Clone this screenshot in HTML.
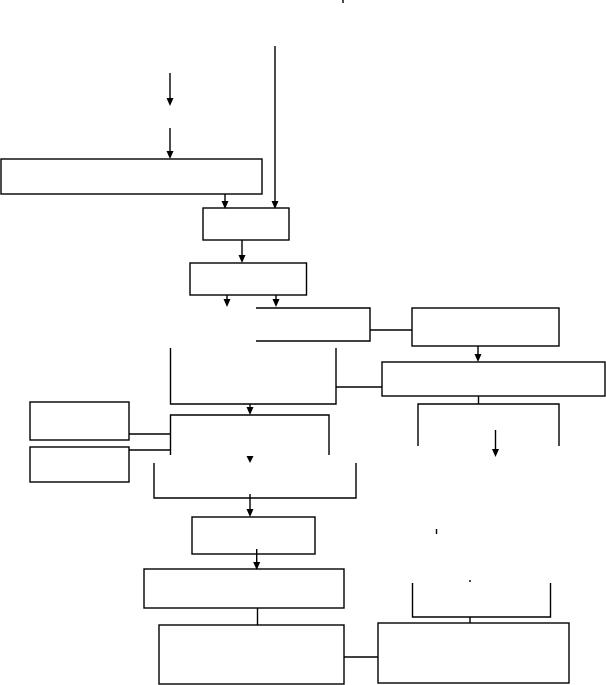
<!DOCTYPE html>
<html><head><meta charset="utf-8"><style>
html,body{margin:0;padding:0;background:#fff;width:606px;height:685px;overflow:hidden}
svg{display:block}
</style></head><body>
<svg width="606" height="685" viewBox="0 0 606 685" xmlns="http://www.w3.org/2000/svg">
<g fill="none" stroke="#000" stroke-width="1.4">
<line x1="343" y1="0" x2="343" y2="3"/>
<line x1="436.5" y1="529" x2="436.5" y2="534"/>
<line x1="470" y1="580" x2="470" y2="582"/>
<line x1="170" y1="73" x2="170" y2="99"/>
<line x1="170" y1="128" x2="170" y2="152"/>
<line x1="275" y1="46" x2="275" y2="202"/>
<rect x="1" y="159" width="261" height="35"/>
<line x1="225" y1="194" x2="225" y2="202"/>
<rect x="203" y="208" width="86" height="32"/>
<line x1="242" y1="240" x2="242" y2="256"/>
<rect x="190" y="263" width="116.5" height="32"/>
<line x1="227" y1="295" x2="227" y2="300"/>
<line x1="276" y1="295" x2="276" y2="300"/>
<path d="M256,308 H370 V341 H256"/>
<line x1="370" y1="330" x2="412" y2="330"/>
<rect x="412" y="308" width="147" height="38"/>
<line x1="478" y1="346" x2="478" y2="355"/>
<path d="M170.5,348 V404 H336 V348"/>
<line x1="336" y1="387" x2="382" y2="387"/>
<rect x="382" y="362" width="223" height="34"/>
<line x1="478.5" y1="396" x2="478.5" y2="404"/>
<path d="M418,446 V404 H559 V446"/>
<line x1="495.5" y1="430" x2="495.5" y2="450"/>
<line x1="250" y1="404" x2="250" y2="408"/>
<path d="M170.5,455 V415 H329 V455"/>
<rect x="30" y="402" width="99" height="38"/>
<rect x="30" y="447" width="99" height="35"/>
<line x1="129" y1="434" x2="170.5" y2="434"/>
<line x1="129" y1="450" x2="170.5" y2="450"/>
<path d="M154,463 V498 H356 V463"/>
<line x1="250" y1="494" x2="250" y2="510"/>
<rect x="192" y="517" width="123" height="37"/>
<line x1="256.7" y1="549" x2="256.7" y2="563"/>
<rect x="144" y="569" width="200" height="39"/>
<line x1="257.5" y1="608" x2="257.5" y2="625"/>
<rect x="159" y="625" width="185" height="59"/>
<line x1="344" y1="657" x2="378" y2="657"/>
<rect x="378" y="623" width="191" height="60"/>
<path d="M412.5,583 V617 H550.5 V583"/>
<line x1="470" y1="617" x2="470" y2="623"/>
</g>
<g fill="#000">
<path d="M166.5,98 H173.5 L170,106 Z"/>
<path d="M166.5,151 H173.5 L170,159 Z"/>
<path d="M271.5,201 H278.5 L275,209 Z"/>
<path d="M221.5,201 H228.5 L225,209 Z"/>
<path d="M238.5,255 H245.5 L242,263 Z"/>
<path d="M223.5,299 H230.5 L227,307 Z"/>
<path d="M272.5,299 H279.5 L276,307 Z"/>
<path d="M474.5,354 H481.5 L478,362 Z"/>
<path d="M492,449 H499 L495.5,457 Z"/>
<path d="M246.5,407 H253.5 L250,415 Z"/>
<path d="M246.5,456 H253.5 L250,463 Z"/>
<path d="M246.5,509 H253.5 L250,517 Z"/>
<path d="M253.2,562 H260.2 L256.7,570 Z"/>
</g>
</svg>
</body></html>
